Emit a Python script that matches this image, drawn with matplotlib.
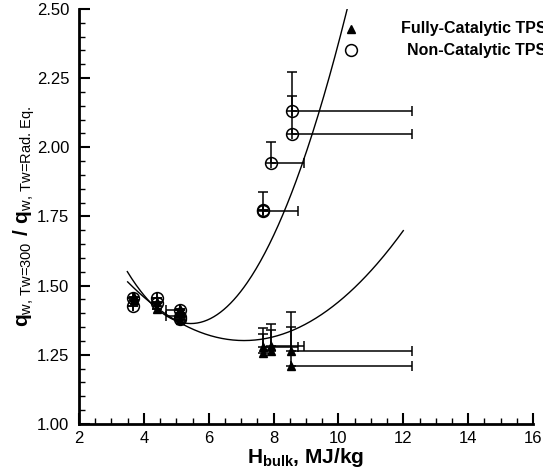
import numpy as np
import matplotlib
matplotlib.use('Agg')
import matplotlib.pyplot as plt
from matplotlib.ticker import MultipleLocator, FormatStrFormatter

plt.rcParams['font.family'] = ['Liberation Sans', 'DejaVu Sans']
plt.rcParams['mathtext.fontset'] = 'custom'
plt.rcParams['mathtext.rm'] = 'Liberation Sans'
plt.rcParams['mathtext.bf'] = 'Liberation Sans:bold'

# fully-catalytic TPS (filled triangles)
fc_h = [3.70, 3.70, 4.42, 4.42, 5.12, 5.12, 5.12, 7.68, 7.68, 7.92, 7.92, 8.55, 8.55]
fc_q = [1.460, 1.448, 1.442, 1.414, 1.414, 1.400, 1.376, 1.277, 1.258, 1.282, 1.265, 1.265, 1.211]
fc_q_up = [0, 0, 0, 0, 0, 0, 0, 0.069, 0.067, 0.078, 0.075, 0.141, 0.139]
fc_h_right = [0, 0, 0, 0, 0, 0, 0, 1.06, 0, 1.02, 0, 3.72, 3.72]

# non-catalytic TPS (open circles)
nc_h = [3.68, 3.68, 4.42, 4.42, 5.12, 5.12, 5.12, 7.66, 7.66, 7.92, 8.56, 8.56]
nc_q = [1.454, 1.426, 1.457, 1.436, 1.412, 1.388, 1.380, 1.771, 1.775, 1.942, 2.131, 2.048]
nc_q_up = [0, 0, 0, 0, 0, 0, 0, 0.069, 0, 0.078, 0.142, 0.139]
nc_h_right = [0, 0, 0, 0, 0, 0, 0, 1.08, 0, 1.02, 3.71, 3.71]

# left-pointing enthalpy bars on the 5.1 MJ/kg runs
left_h = [5.12, 5.12]
left_q = [1.412, 1.390]
left_dh = [0.43, 0.43]

# quadratic fits, coefficients c0 + c1*H + c2*H^2, and plotted H range
fit_nc = [2.815, -0.5330, 0.04891]
fit_nc_range = [3.49, 10.30]
fit_fc = [2.129, -0.2335, 0.01647]
fit_fc_range = [3.50, 12.00]

fig = plt.figure(figsize=(5.43, 4.70), dpi=100)
ax = fig.add_axes([0.1455, 0.098, 0.8361, 0.883])

for c, rng in [(fit_nc, fit_nc_range), (fit_fc, fit_fc_range)]:
    hh = np.linspace(rng[0], rng[1], 200)
    ax.plot(hh, c[0] + c[1] * hh + c[2] * hh**2, color='black', lw=1.0, zorder=2)

ekw = dict(fmt='none', ecolor='black', elinewidth=1.1, capsize=3.5, capthick=1.1, zorder=3)
zeros_fc = np.zeros(len(fc_h))
zeros_nc = np.zeros(len(nc_h))
ax.errorbar(fc_h, fc_q, yerr=[zeros_fc, fc_q_up], xerr=[zeros_fc, fc_h_right], **ekw)
ax.errorbar(nc_h, nc_q, yerr=[zeros_nc, nc_q_up], xerr=[zeros_nc, nc_h_right], **ekw)
ax.errorbar(left_h, left_q, xerr=[left_dh, np.zeros(len(left_h))], **ekw)

ax.plot(fc_h, fc_q, linestyle='none', marker='^', ms=6, color='black', zorder=4)
ax.plot(nc_h, nc_q, linestyle='none', marker='o', ms=8.5, mfc='none', mec='black', mew=1.1, zorder=5)

ax.set_xlim(2, 16)
ax.set_ylim(1.0, 2.5)
ax.xaxis.set_major_locator(MultipleLocator(2))
ax.xaxis.set_minor_locator(MultipleLocator(0.5))
ax.yaxis.set_major_locator(MultipleLocator(0.25))
ax.yaxis.set_minor_locator(MultipleLocator(0.05))
ax.yaxis.set_major_formatter(FormatStrFormatter('%.2f'))
ax.tick_params(which='both', direction='in', top=False, right=False, labelsize=12, width=1.5)
ax.tick_params(which='major', length=8)
ax.tick_params(which='minor', length=4.5, width=1.0)
ax.tick_params(axis='x', pad=5)
ax.tick_params(axis='y', pad=7)
for s in ['top', 'right']:
    ax.spines[s].set_visible(False)
for s in ['left', 'bottom']:
    ax.spines[s].set_linewidth(2.0)

ax.set_xlabel(r'$\mathbf{H}_{\mathbf{bulk}}$, MJ/kg', fontsize=15, fontweight='bold', labelpad=0)
ax.set_ylabel(r'$\mathbf{q}_{\text{w, Tw=300}}\ \mathbf{/}\ \mathbf{q}_{\text{w, Tw=Rad. Eq.}}$',
              fontsize=15, labelpad=0)

# legend drawn in axes-fraction coordinates
ax.plot([0.60], [0.952], transform=ax.transAxes, marker='^', ms=6, color='black', clip_on=False)
ax.plot([0.60], [0.901], transform=ax.transAxes, marker='o', ms=8.5, mfc='none', mec='black',
        mew=1.1, clip_on=False)
ax.text(1.03, 0.952, 'Fully-Catalytic TPS', transform=ax.transAxes, ha='right', va='center',
        fontsize=11.5, fontweight='bold')
ax.text(1.03, 0.901, 'Non-Catalytic TPS', transform=ax.transAxes, ha='right', va='center',
        fontsize=11.5, fontweight='bold')

fig.savefig('out.png', dpi=100)
